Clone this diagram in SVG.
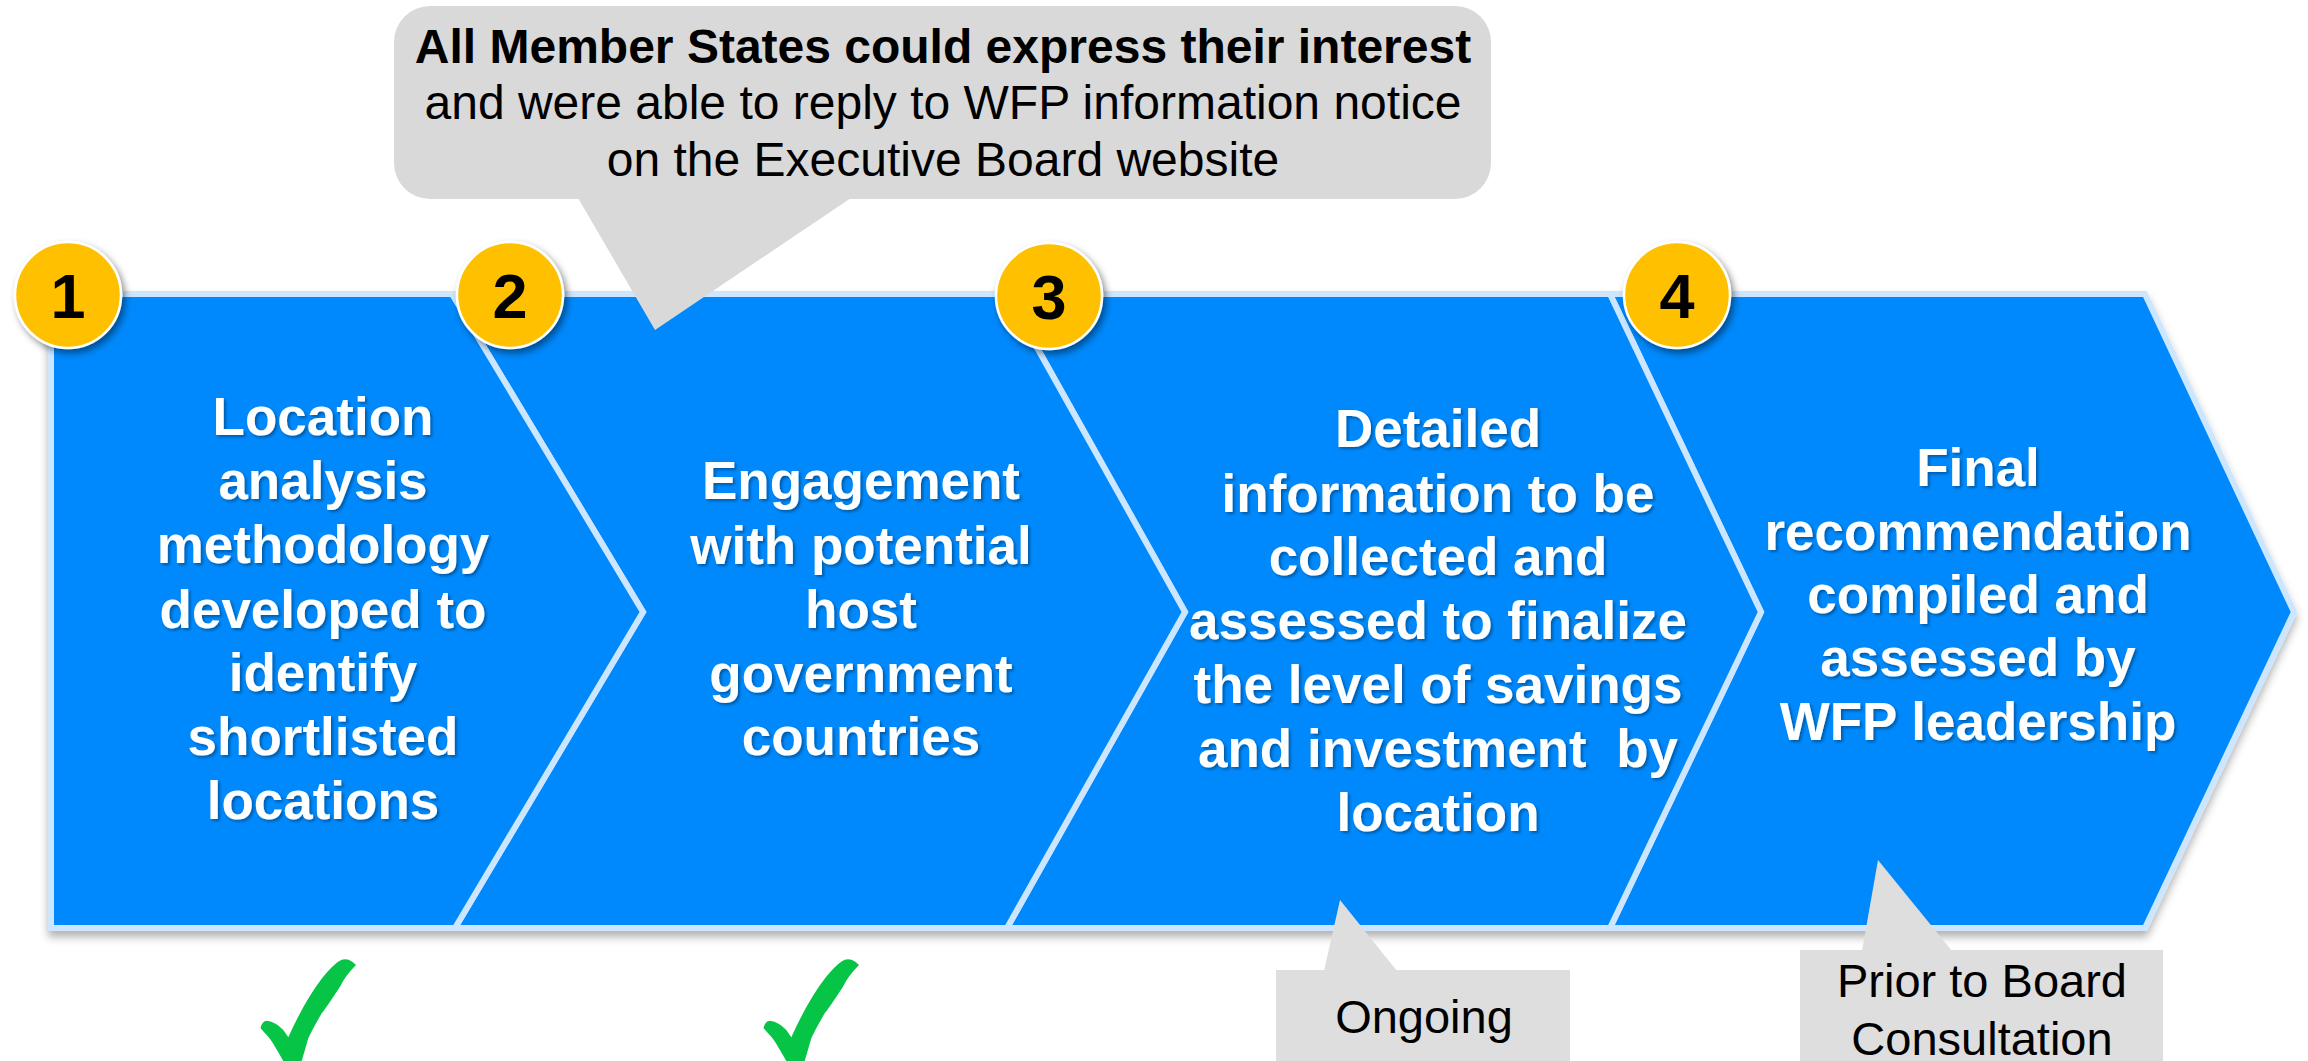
<svg xmlns="http://www.w3.org/2000/svg" width="2308" height="1061" viewBox="0 0 2308 1061">
<style>
.chev{fill:#0689FD;stroke:#CDE6FF;stroke-width:6;stroke-linejoin:miter}
.ct{font-family:"Liberation Sans",Arial,sans-serif;font-weight:bold;font-size:53px;fill:#fff;text-anchor:middle;white-space:pre}
.badge{fill:#FFC000;stroke:#fff;stroke-width:2.5}
.bn{font-family:"Liberation Sans",Arial,sans-serif;font-weight:bold;font-size:63px;fill:#000;text-anchor:middle}
.call{font-family:"Liberation Sans",Arial,sans-serif;font-size:47px;fill:#000;text-anchor:middle}
.callt{font-family:"Liberation Sans",Arial,sans-serif;font-size:48px;fill:#000;text-anchor:middle}
.check{fill:#05C446}
</style>
<defs>
<filter id="sh" x="-5%" y="-5%" width="110%" height="115%">
<feDropShadow dx="0" dy="6" stdDeviation="4" flood-color="#000" flood-opacity="0.3"/>
</filter>
<filter id="tsh" x="-10%" y="-10%" width="120%" height="130%">
<feDropShadow dx="2" dy="2" stdDeviation="1.5" flood-color="#000" flood-opacity="0.35"/>
</filter>
<filter id="bsh" x="-30%" y="-30%" width="160%" height="160%">
<feDropShadow dx="3" dy="4" stdDeviation="3.5" flood-color="#000" flood-opacity="0.45"/>
</filter>
<path id="ck" d="M260.5 1028 Q262 1021 267 1020.7 Q276 1022 283.3 1030 L288.3 1037.3 Q305 1000 323 977 Q332 966 338.5 961.5 Q345 957 352 961.5 L356 965 Q345 976 340 986.7 Q326 1008 321.7 1013.3 Q312 1030 308.3 1038.3 L301.7 1061 L283.3 1061 Q280 1055 275 1046.7 Q270 1038 265 1033.3 Z"/>
</defs>
<rect width="2308" height="1061" fill="#fff"/>

<g id="chevrons" filter="url(#sh)">
<g id="step4"><polygon class="chev" points="1610,294 2145,294 2294,612 2145,928 1610,928 1761,612"/></g>
<g id="step3"><polygon class="chev" points="1007,294 1610,294 1761,612 1610,928 1007,928 1185,612"/></g>
<g id="step2"><polygon class="chev" points="452,294 1007,294 1185,612 1007,928 455,928 643,612"/></g>
<g id="step1"><polygon class="chev" points="51,294 452,294 643,612 455,928 51,928"/></g>
</g>

<g id="step1-text" filter="url(#tsh)">
<text class="ct" x="323" y="435">Location</text>
<text class="ct" x="323" y="499">analysis</text>
<text class="ct" x="323" y="563">methodology</text>
<text class="ct" x="323" y="628">developed to</text>
<text class="ct" x="323" y="691">identify</text>
<text class="ct" x="323" y="755">shortlisted</text>
<text class="ct" x="323" y="819">locations</text>
</g>
<g id="step2-text" filter="url(#tsh)">
<text class="ct" x="861" y="499">Engagement</text>
<text class="ct" x="861" y="564">with potential</text>
<text class="ct" x="861" y="628">host</text>
<text class="ct" x="861" y="692">government</text>
<text class="ct" x="861" y="755">countries</text>
</g>
<g id="step3-text" filter="url(#tsh)">
<text class="ct" x="1438" y="447">Detailed</text>
<text class="ct" x="1438" y="512">information to be</text>
<text class="ct" x="1438" y="575">collected and</text>
<text class="ct" x="1438" y="639">assessed to finalize</text>
<text class="ct" x="1438" y="703">the level of savings</text>
<text class="ct" x="1438" y="767">and investment  by</text>
<text class="ct" x="1438" y="831">location</text>
</g>
<g id="step4-text" filter="url(#tsh)">
<text class="ct" x="1978" y="486">Final</text>
<text class="ct" x="1978" y="550">recommendation</text>
<text class="ct" x="1978" y="613">compiled and</text>
<text class="ct" x="1978" y="676">assessed by</text>
<text class="ct" x="1978" y="740">WFP leadership</text>
</g>

<g id="callout-top">
<rect x="394" y="6" width="1097" height="193" rx="36" fill="#D9D9D9"/>
<polygon points="578,198 655,330 851,198" fill="#D9D9D9"/>
<text class="callt" x="943" y="63" style="font-weight:bold">All Member States could express their interest</text>
<text class="callt" x="943" y="119">and were able to reply to WFP information notice</text>
<text class="callt" x="943" y="176">on the Executive Board website</text>
</g>

<g id="badge1" filter="url(#bsh)"><circle class="badge" cx="68" cy="295" r="53"/><text class="bn" x="68" y="318">1</text></g>
<g id="badge2" filter="url(#bsh)"><circle class="badge" cx="510" cy="295" r="53"/><text class="bn" x="510" y="318">2</text></g>
<g id="badge3" filter="url(#bsh)"><circle class="badge" cx="1049" cy="296" r="53"/><text class="bn" x="1049" y="319">3</text></g>
<g id="badge4" filter="url(#bsh)"><circle class="badge" cx="1677" cy="295" r="53"/><text class="bn" x="1677" y="318">4</text></g>

<g id="callout-ongoing">
<rect x="1276" y="970" width="294" height="100" fill="#DEDEDE"/>
<polygon points="1324,971 1340,900 1397,971" fill="#DEDEDE"/>
<text class="call" x="1424" y="1033">Ongoing</text>
</g>
<g id="callout-prior">
<rect x="1800" y="950" width="363" height="120" fill="#DEDEDE"/>
<polygon points="1862,951 1878,860 1952,951" fill="#DEDEDE"/>
<text class="call" x="1982" y="997">Prior to Board</text>
<text class="call" x="1982" y="1055">Consultation</text>
</g>

<g id="check1"><use href="#ck" class="check"/></g>
<g id="check2"><use href="#ck" class="check" transform="translate(503,0)"/></g>
</svg>
